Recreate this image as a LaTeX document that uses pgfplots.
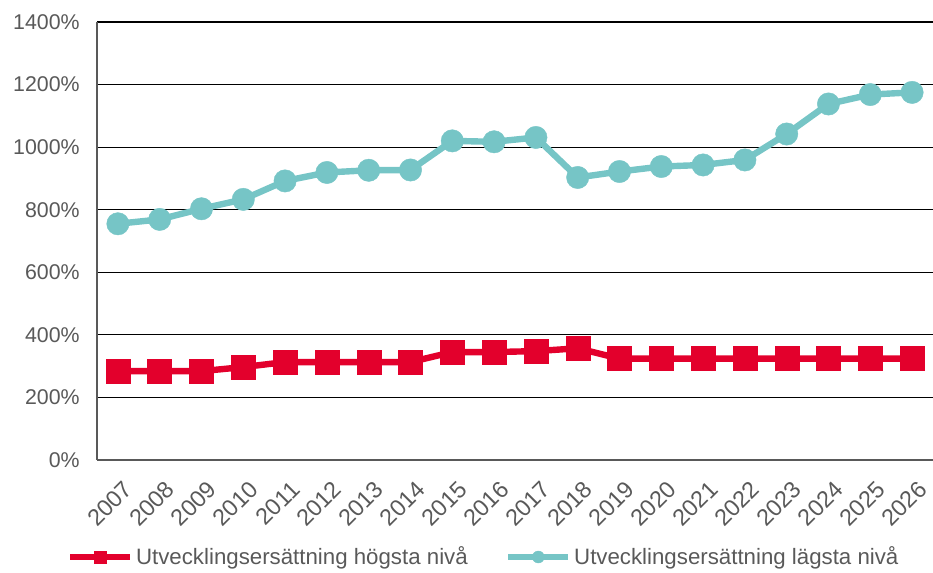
\documentclass[border=0pt]{standalone}
\usepackage{pgfplots}
\pgfplotsset{compat=1.18}
\usepackage{fontspec}
\setmainfont{Liberation Sans}
\definecolor{redc}{RGB}{227,0,44}
\definecolor{tealc}{RGB}{118,197,198}
\definecolor{txt}{RGB}{89,89,89}
\begin{document}
\begin{tikzpicture}
\useasboundingbox (0pt,0pt) rectangle (699.75pt,429.75pt);
\begin{axis}[
  at={(72.75pt,84.75pt)}, anchor=south west,
  scale only axis, width=627pt, height=328.5pt,
  clip=false,
  xmin=-0.5, xmax=19.5, ymin=0, ymax=1400,
  axis x line*=bottom, axis y line*=left,
  axis line style={draw=txt, line width=1.5pt},
  xtick={0,...,19},
  xticklabels={2007,2008,2009,2010,2011,2012,2013,2014,2015,2016,2017,2018,2019,2020,2021,2022,2023,2024,2025,2026},
  ytick={0,200,...,1400},
  yticklabel={\pgfmathprintnumber{\tick}\%},
  /pgf/number format/1000 sep={},
  /pgf/number format/assume math mode=true,
  major tick length=0pt,
  ymajorgrids, grid style={draw=black, line width=0.9pt},
  tick label style={font=\fontsize{16}{19}\selectfont, text=txt},
  yticklabel style={anchor=east, xshift=-9.5pt},
  xticklabel style={rotate=45, anchor=north east, font=\fontsize{17.5}{20}\selectfont, xshift=-4.4pt, yshift=-9.3pt},
  legend columns=2,
  legend style={at={(0.463,-0.2215)}, anchor=center, draw=none, fill=none,
    font=\fontsize{16.7}{19}\selectfont, text=txt,
    /tikz/every even column/.append style={column sep=26pt},
    inner xsep=0pt, cells={anchor=west}},
  legend image code/.code={
    \draw[#1, mark=none] (0pt,0pt) -- (45pt,0pt);
    \draw[#1, mark size=4.5pt, line width=0.3pt] plot coordinates {(22.5pt,0pt)};
  },
]
\addplot[color=redc, line width=4.8pt, mark=square*, mark size=9pt,
  mark options={line width=0.3pt, fill=redc, draw=redc, rounded corners=1pt}]
  coordinates {(0,284) (1,284) (2,284) (3,297) (4,313) (5,313) (6,313) (7,313) (8,345) (9,345)
  (10,348) (11,357) (12,324) (13,324) (14,324) (15,324) (16,324) (17,324) (18,324) (19,324)};
\addlegendentry{Utvecklingsersättning högsta nivå}
\addplot[color=tealc, line width=4.8pt, mark=*, mark size=8.4pt,
  mark options={line width=0.3pt, fill=tealc, draw=tealc}]
  coordinates {(0,755) (1,769) (2,803) (3,833) (4,892) (5,919) (6,926) (7,927) (8,1020) (9,1017)
  (10,1031) (11,903) (12,922) (13,938) (14,943) (15,959) (16,1042) (17,1138) (18,1168) (19,1175)};
\addlegendentry{Utvecklingsersättning lägsta nivå}
\end{axis}
\end{tikzpicture}
\end{document}
